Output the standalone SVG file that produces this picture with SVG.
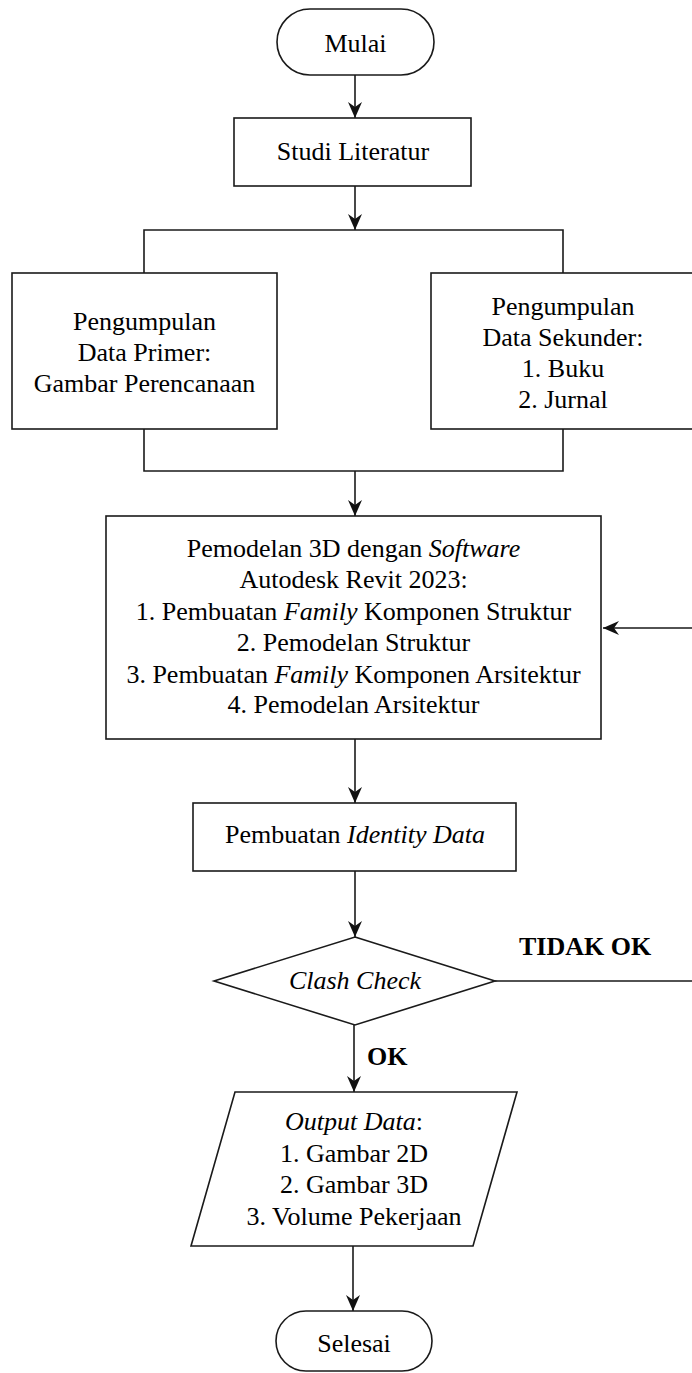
<svg xmlns="http://www.w3.org/2000/svg" width="692" height="1373" viewBox="0 0 692 1373">
<style>
.s{fill:#fff;stroke:#1a1a1a;stroke-width:1.6}
.c{fill:none;stroke:#1a1a1a;stroke-width:1.6}
text{font-family:'Liberation Serif','Times New Roman',Times,'DejaVu Serif',serif;font-size:26px;fill:#000}
.t{text-anchor:middle}
.b{font-weight:bold}
.i{font-style:italic}
</style>
<defs>
<marker id="ah" markerUnits="userSpaceOnUse" markerWidth="16" markerHeight="16" refX="16" refY="8" orient="auto">
<path d="M0,1 L16,8 L0,15 L5,8 z" fill="#111"/>
</marker>
</defs>
<rect width="692" height="1373" fill="#fff"/>
<g id="connectors">
<path class="c" d="M355,75 V118" marker-end="url(#ah)"/>
<path class="c" d="M355,186 V230" marker-end="url(#ah)"/>
<path class="c" d="M144,273 V230 H563 V273"/>
<path class="c" d="M144,429 V471 H563 V429"/>
<path class="c" d="M355,471 V516" marker-end="url(#ah)"/>
<path class="c" d="M355,739 V803" marker-end="url(#ah)"/>
<path class="c" d="M355,871 V937" marker-end="url(#ah)"/>
<path class="c" d="M495,981 H694 V628 H603" marker-end="url(#ah)"/>
<path class="c" d="M354,1025 V1092" marker-end="url(#ah)"/>
<path class="c" d="M353,1246 V1311" marker-end="url(#ah)"/>
<text class="b" x="519" y="955" font-family="Liberation Serif, serif">TIDAK OK</text>
<text class="b" x="367" y="1065" font-family="Liberation Serif, serif">OK</text>
</g>
<g id="mulai">
<rect class="s" x="277" y="9" width="157" height="66" rx="33" ry="33"/>
<text class="t" x="355.5" y="52">Mulai</text>
</g>
<g id="studi">
<rect class="s" x="234" y="118" width="237" height="68"/>
<text class="t" x="353" y="160">Studi Literatur</text>
</g>
<g id="primer">
<rect class="s" x="12" y="273" width="265" height="156"/>
<text class="t" x="144.5" y="330">Pengumpulan</text>
<text class="t" x="144.5" y="361">Data Primer:</text>
<text class="t" x="144.5" y="392">Gambar Perencanaan</text>
</g>
<g id="sekunder">
<rect class="s" x="431" y="273" width="264" height="156"/>
<text class="t" x="563" y="315">Pengumpulan</text>
<text class="t" x="563" y="346">Data Sekunder:</text>
<text class="t" x="563" y="377">1. Buku</text>
<text class="t" x="563" y="408">2. Jurnal</text>
</g>
<g id="pemodelan">
<rect class="s" x="106" y="516" width="495" height="223"/>
<text class="t" x="353.5" y="557">Pemodelan 3D dengan <tspan class="i">Software</tspan></text>
<text class="t" x="353.5" y="588">Autodesk Revit 2023:</text>
<text class="t" x="353.5" y="620">1. Pembuatan <tspan class="i">Family</tspan> Komponen Struktur</text>
<text class="t" x="353.5" y="651">2. Pemodelan Struktur</text>
<text class="t" x="353.5" y="683">3. Pembuatan <tspan class="i">Family</tspan> Komponen Arsitektur</text>
<text class="t" x="353.5" y="713">4. Pemodelan Arsitektur</text>
</g>
<g id="identity">
<rect class="s" x="193" y="803" width="323" height="68"/>
<text class="t" x="355" y="843">Pembuatan <tspan class="i">Identity Data</tspan></text>
</g>
<g id="clash">
<polygon class="s" points="355,937 495,981 355,1025 214,981"/>
<text class="t i" x="355" y="989">Clash Check</text>
</g>
<g id="output">
<polygon class="s" points="235,1092 517,1092 473,1246 191,1246"/>
<text class="t" x="354" y="1130"><tspan class="i">Output Data</tspan>:</text>
<text class="t" x="354" y="1162">1. Gambar 2D</text>
<text class="t" x="354" y="1193">2. Gambar 3D</text>
<text class="t" x="354" y="1225">3. Volume Pekerjaan</text>
</g>
<g id="selesai">
<rect class="s" x="276" y="1311" width="156" height="60" rx="30" ry="30"/>
<text class="t" x="354" y="1352">Selesai</text>
</g>
</svg>
